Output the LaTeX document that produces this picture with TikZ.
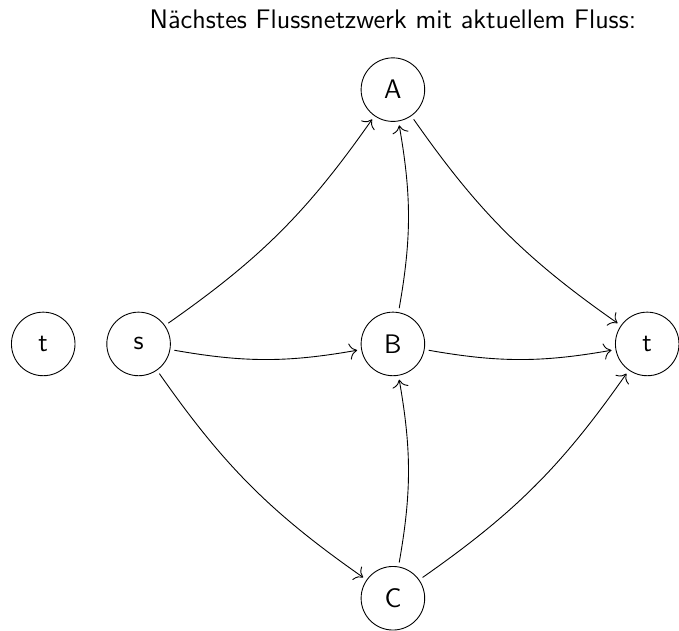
\documentclass[tikz,border=0pt]{standalone}
\usepackage{tikz}
\usetikzlibrary{arrows.meta}

\begin{document}
\begin{tikzpicture}[font=\sffamily\large, >={To[scale=1.4]}]
            \tikzset{vertex/.style={draw,circle,minimum size=1cm,inner sep=0pt,outer sep=2pt}}
            \useasboundingbox (-6.18,-4.5) rectangle (4.5,5.41);
            \node[anchor=base] (title) at (0,4.96) {Nächstes Flussnetzwerk mit aktuellem Fluss:};
            \node[vertex] (t0) at (-5.5,0) {t};
            \node[vertex] (s) at (-4,0) {s};
            \node[vertex] (A) at (0,4) {A};
            \node[vertex] (B) at (0,0) {B};
            \node[vertex] (C) at (0,-4) {C};
            \node[vertex] (t) at (4,0) {t};
          \begin{scope}[->]
            \draw (s) to[bend right=10] (A);
            \draw (s) to[bend right=10] (B);
            \draw (s) to[bend right=10] (C);
            \draw (B) to[bend right=10] (A);
            \draw (C) to[bend right=10] (B);
            \draw (A) to[bend right=10] (t);
            \draw (B) to[bend right=10] (t);
            \draw (C) to[bend right=10] (t);
          \end{scope}
\end{tikzpicture}
\end{document}
